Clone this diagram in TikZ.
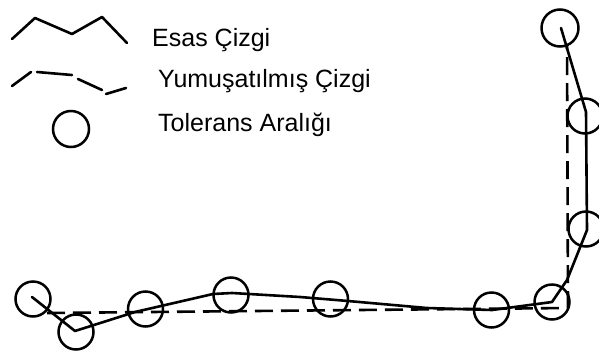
\documentclass[tikz,border=0pt]{standalone}
\usepackage{fontspec}
\setmainfont{Liberation Sans}
\begin{document}
\begin{tikzpicture}[x=1pt,y=-1pt,
  ink/.style={line width=2.6pt,line join=round,line cap=round},
  tol/.style={draw,circle,line width=2.5pt,minimum size=35pt,inner sep=0pt},
  dashline/.style={ink,line cap=butt,dash pattern=on 18pt off 8pt},
  label/.style={anchor=base west,inner sep=0pt,font=\fontsize{25}{30}\selectfont}]
\useasboundingbox (0,0) rectangle (599,351);

% legend
\coordinate (s1) at (12,39);
\coordinate (s2) at (35,18);
\coordinate (s3) at (72,34);
\coordinate (s4) at (102,17);
\coordinate (s5) at (127,43);
\draw[ink] (s1) -- (s2) -- (s3) -- (s4) -- (s5);
\node[label] (lesas) at (152,46) {Esas Çizgi};

\coordinate (d1) at (12,86);
\coordinate (d2) at (31,72);
\coordinate (d3) at (37,72);
\coordinate (d4) at (72,75);
\coordinate (d5) at (78,79);
\coordinate (d6) at (102,90);
\coordinate (d7) at (106,94);
\coordinate (d8) at (126,88);
\draw[ink] (d1) -- (d2);
\draw[ink] (d3) -- (d4);
\draw[ink] (d5) -- (d6);
\draw[ink] (d7) -- (d8);
\node[label] (lyum) at (158,87) {Yumuşatılmış Çizgi};

\node[tol,minimum size=36pt] (ltol) at (71,129) {};
\node[label] (ltext) at (158,131) {Tolerans Aralığı};

% tolerance circles
\node[tol] (c1) at (33,299) {};
\node[tol] (c2) at (76,332) {};
\node[tol] (c3) at (145.5,309) {};
\node[tol] (c4) at (231,295) {};
\node[tol] (c5) at (330.5,299) {};
\node[tol] (c6) at (491.5,310) {};
\node[tol] (c7) at (552,302) {};
\node[tol,minimum size=37pt] (c8) at (560,28) {};
\node[tol] (c9) at (585,116) {};
\node[tol] (c10) at (586,229) {};

% base line
\coordinate (p1) at (32,297);
\coordinate (p2) at (75,331);
\coordinate (p3) at (135,312);
\coordinate (p4) at (213,294);
\coordinate (p5) at (232,293);
\coordinate (p6) at (300,297);
\coordinate (p7) at (348,301);
\coordinate (p8) at (427,308);
\coordinate (p9) at (492,310);
\coordinate (p10) at (552,302);
\coordinate (p11) at (567,280);
\coordinate (p12) at (587,230);
\coordinate (p13) at (586,112);
\coordinate (p14) at (561,28);
\draw[ink] (p1) -- (p2) -- (p3) -- (p4) -- (p5) -- (p6) -- (p7) -- (p8)
  -- (p9) -- (p10) -- (p11) -- (p12) -- (p13) -- (p14);

% smoothed line
\coordinate (q1) at (47,313);
\coordinate (q2) at (568,308);
\coordinate (q3) at (567,45);
\draw[dashline] (q1) -- (q2) -- (q3);
\end{tikzpicture}
\end{document}
